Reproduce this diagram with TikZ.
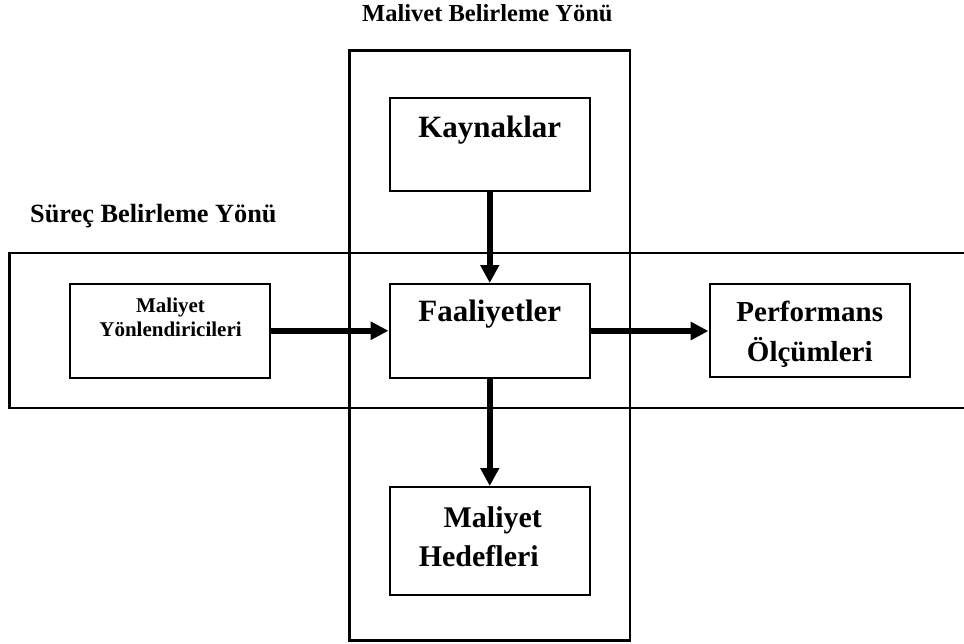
\documentclass[tikz,border=0pt]{standalone}
\usepackage{fontspec}
\setmainfont{Liberation Serif}
\usetikzlibrary{arrows.meta}
\begin{document}
\begin{tikzpicture}[x=1pt,y=-1pt,
  frame/.style={line width=2.2pt},
  box/.style={draw, line width=2pt, inner sep=0pt, minimum width=200.5pt},
  txt/.style={inner sep=0pt, align=center},
  flowv/.style={line width=5.5pt, -{Triangle[length=18pt,width=18pt]}},
  flowh/.style={line width=6.5pt, -{Triangle[length=18pt,width=17.5pt]}},
]
\useasboundingbox (0,0) rectangle (964,643);

% the two direction bands
\draw[frame] (349.5,50.5) rectangle (630,640.5);
\draw[frame] (966,253.3) -- (9.5,253.3) -- (9.5,408.3) -- (966,408.3);

% band titles
\node[txt, font=\bfseries\fontsize{24.5}{29}\selectfont, anchor=base west] (maltitle) at (362,21) {Malivet Belirleme Yönü};
\node[txt, font=\bfseries\fontsize{26.3}{31}\selectfont, anchor=base west] (surtitle) at (30,222.3) {Süreç Belirleme Yönü};

% boxes
\node[box, minimum height=93.5pt] (kay) at (489.75,144.25) {};
\node[box, minimum height=94pt] (faa) at (489.75,331) {};
\node[box, minimum height=107.5pt] (hed) at (489.75,540.75) {};
\node[box, minimum height=93.5pt] (myon) at (169.75,330.75) {};
\node[box, minimum height=93pt] (perf) at (809.75,330.5) {};

% box texts (base anchor = baseline of the last line)
\node[txt, font=\bfseries\fontsize{31}{37}\selectfont, anchor=base] (kaytxt) at (489.75,137) {Kaynaklar};
\node[txt, font=\bfseries\fontsize{31}{37}\selectfont, anchor=base] (faatxt) at (489.75,321.7) {Faaliyetler};
\node[txt, font=\bfseries\fontsize{21}{24}\selectfont, anchor=base] (myontxt) at (170.5,336) {Maliyet\\Yönlendiricileri};
\node[txt, font=\bfseries\fontsize{29}{40}\selectfont, anchor=base] (perftxt) at (809.75,361) {Performans\\Ölçümleri};
\node[txt, font=\bfseries\fontsize{30}{39}\selectfont, anchor=base] (hedtxt) at (489.75,566) {\hspace*{6pt}Maliyet\\Hedefleri\hspace*{22pt}};

% flows
\draw[flowv] (kay.south) -- (faa.north);
\draw[flowv] (faa.south) -- (hed.north);
\draw[flowh] (myon.east) -- (myon.east -| faa.west);
\draw[flowh] (faa.east) -- (faa.east -| perf.west);
\end{tikzpicture}
\end{document}
